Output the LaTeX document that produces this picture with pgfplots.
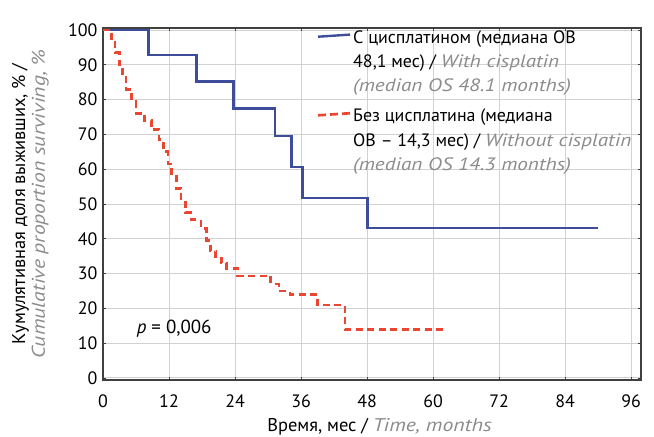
\documentclass[border=0pt]{standalone}
\usepackage{fontspec}
\setmainfont{PT Sans}
\newfontfamily\enfam{PT Sans}[FakeStretch=1.18]
\usepackage{pgfplots}
\pgfplotsset{compat=1.18}

\definecolor{kmblue}{HTML}{3E4C9C}
\definecolor{kmred}{HTML}{EA4631}
\definecolor{engray}{HTML}{8C8C8C}
\definecolor{gridgray}{HTML}{D2D2D2}
\newcommand{\en}[1]{{\color{engray}\enfam\itshape #1}}

% Kaplan--Meier estimates: time (months), surviving (%)
\pgfplotstableread{
t     s
0     100
8.3   92.8
17.0  85.2
23.7  77.4
31.3  69.6
34.3  60.6
36.3  51.8
48.1  43.1
90.0  43.1
}\withcis
\pgfplotstableread{
t     s
0     100
1.5   97.0
2.2   93.5
3.0   90.0
3.6   86.5
4.2   83.0
5.2   79.5
6.0   76.0
7.5   74.0
8.8   71.5
10.2  68.5
11.0  65.0
11.8  61.5
12.5  58.0
13.3  54.5
14.2  51.0
15.0  47.5
16.0  45.5
17.8  43.0
18.8  39.5
19.5  36.5
20.5  34.5
21.5  33.0
22.5  31.5
24.5  29.3
30.5  27.0
32.0  25.0
34.0  24.0
39.0  21.0
44.0  14.0
62.0  14.0
}\withoutcis

\begin{document}
\begin{tikzpicture}
\begin{axis}[
  name=ax, at={(0,0)}, anchor=south west,
  scale only axis, width=538bp, height=352bp,
  xmin=0, xmax=97.8, ymin=-0.6, ymax=100.6,
  xtick={0,12,...,96}, ytick={0,10,...,100},
  grid=major, major grid style={gridgray, line width=0.9pt},
  axis line style={black!75, line width=1.3pt},
  tick style={black!75, line width=0.8pt}, tick align=inside, major tick length=3bp,
  ticklabel style={font=\fontsize{18}{20}\selectfont},
  xticklabel style={yshift=-11bp},
  yticklabel style={xshift=-2bp},
  /pgf/number format/assume math mode=true,
  xlabel={Время, мес / \en{Time, months}},
  every axis x label/.style={at={(axis description cs:0.514,-0.147)}, anchor=base,
    font=\fontsize{18.5}{20}\selectfont},
  ylabel={Кумулятивная доля выживших, \% /\\\en{Cumulative proportion surviving, \%}},
  every axis y label/.style={at={(axis description cs:-0.135,0.5)}, anchor=center,
    rotate=90, align=center, font=\fontsize{18.5}{20}\selectfont},
]
\addplot[kmblue, line width=2.4pt, const plot] table[x=t, y=s] {\withcis};
\addplot[kmred, line width=2.7pt, const plot, dash pattern=on 7bp off 4.5bp] table[x=t, y=s] {\withoutcis};

% legend
\draw[kmblue, line width=2.4pt] ([xshift=-35bp,yshift=6.6bp]axis cs:45.45,96.2) -- ++(32bp,0);
\node[anchor=base west, inner sep=0pt, font=\fontsize{18}{24.2}\selectfont] at (axis cs:45.45,96.2)
  {\begin{tabular}[t]{@{}l@{}}С цисплатином (медиана ОВ\\48,1 мес) / \en{With cisplatin}\\\en{(median OS 48.1 months)}\end{tabular}};
\draw[kmred, line width=2.7pt, dash pattern=on 8bp off 4bp] ([xshift=-35bp,yshift=6.6bp]axis cs:45.45,73.6) -- ++(32bp,0);
\node[anchor=base west, inner sep=0pt, font=\fontsize{18}{24.2}\selectfont] at (axis cs:45.45,73.6)
  {\begin{tabular}[t]{@{}l@{}}Без цисплатина (медиана\\ОВ – 14,3 мес) / \en{Without cisplatin}\\\en{(median OS 14.3 months)}\end{tabular}};

\node[anchor=base west, inner sep=0pt, font=\fontsize{19}{21}\selectfont] at (axis cs:6.1,12.8) {\textit{p} = 0,006};
\end{axis}
\pgfresetboundingbox
\path[use as bounding box] (-103bp,-57bp) rectangle (551bp,380bp);
\end{tikzpicture}
\end{document}
